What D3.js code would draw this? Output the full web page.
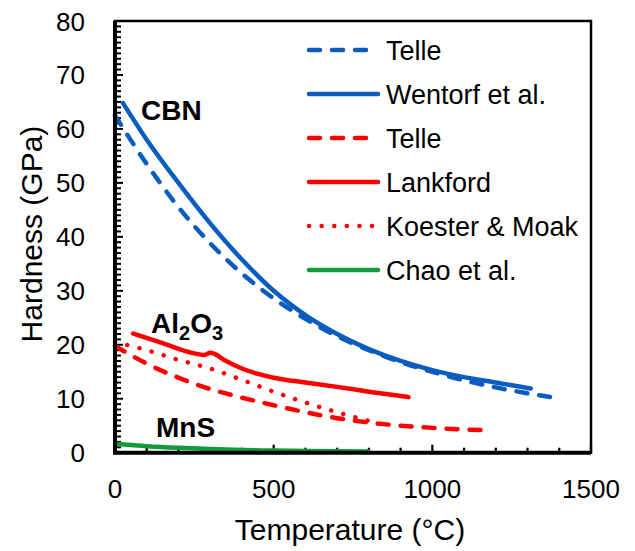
<!DOCTYPE html>
<html>
<head>
<meta charset="utf-8">
<script src="https://cdn.jsdelivr.net/npm/d3@7"></script>
<style>
body { margin: 0; background: #fff; }
text { font-family: Arial, "Liberation Sans", sans-serif; fill: #000; }
</style>
</head>
<body>
<div id="chartDiv"></div>
<script>
// values: temperature (°C) and hardness (GPa)
var cbnTelleT = [0, 100, 200, 300, 400, 500, 600, 700, 800, 900, 1000, 1100, 1200, 1300, 1385];
var cbnTelleH = [62.5, 53.5, 45.5, 38.8, 33.2, 28.6, 24.8, 21.6, 19.0, 16.8, 15.0, 13.4, 12.1, 11.0, 10.2];
var wentorfT = [25, 100, 200, 300, 400, 500, 600, 700, 800, 900, 1000, 1100, 1200, 1310];
var wentorfH = [64.8, 58.0, 50.0, 42.5, 35.8, 30.0, 25.5, 22.0, 19.2, 17.0, 15.3, 14.0, 13.0, 11.9];
var aloTelleT = [0, 100, 200, 300, 400, 500, 600, 700, 800, 900, 1000, 1100, 1170];
var aloTelleH = [19.8, 16.5, 13.9, 11.8, 10.2, 8.8, 7.5, 6.4, 5.6, 5.0, 4.6, 4.3, 4.2];
var lankfordT = [57, 150, 250, 280, 300, 350, 400, 450, 500, 600, 700, 800, 925];
var lankfordH = [22.1, 20.3, 18.4, 18.1, 18.5, 17.0, 15.6, 14.6, 13.9, 13.0, 12.2, 11.3, 10.3];
var koesterT = [0, 100, 200, 300, 400, 500, 600, 700, 800];
var koesterH = [20.5, 19.0, 17.2, 15.6, 13.5, 11.3, 9.3, 7.5, 5.9];
var chaoT = [10, 100, 200, 300, 400, 500, 600, 700, 800];
var chaoH = [1.6, 1.2, 0.9, 0.7, 0.5, 0.4, 0.3, 0.25, 0.2];

var seriesNames = ["Telle", "Wentorf et al.", "Telle", "Lankford", "Koester & Moak", "Chao et al."];
var xTicks = [0, 500, 1000, 1500];
var yTicks = [0, 10, 20, 30, 40, 50, 60, 70, 80];

var blue = "#0a5cbf", red = "#ff0000", green = "#139a3a";
var series = [
    {name: seriesNames[0], t: cbnTelleT, h: cbnTelleH, color: blue, dash: "11,12"},
    {name: seriesNames[1], t: wentorfT, h: wentorfH, color: blue, dash: null},
    {name: seriesNames[2], t: aloTelleT, h: aloTelleH, color: red, dash: "11,12"},
    {name: seriesNames[3], t: lankfordT, h: lankfordH, color: red, dash: null},
    {name: seriesNames[4], t: koesterT, h: koesterH, color: red, dash: "0.1,12.5"},
    {name: seriesNames[5], t: chaoT, h: chaoH, color: green, dash: null}
];

var width = 635, height = 551;

var x = d3.scaleLinear().domain([0, 1500]).range([115, 591]);
var y = d3.scaleLinear().domain([0, 80]).range([452.7, 21]);

var svg = d3.select("#chartDiv").append("svg")
    .attr("width", width)
    .attr("height", height);

// minor / major ticks, pointing inward
var xMinor = d3.range(0, 1501, 100);
svg.append("g").selectAll("line")
    .data(xMinor)
    .enter().append("line")
    .attr("x1", function (d) { return x(d); })
    .attr("x2", function (d) { return x(d); })
    .attr("y1", y(0))
    .attr("y2", function (d) { return y(0) - (d % 500 === 0 ? 8 : 5); })
    .attr("stroke", "#000")
    .attr("stroke-width", 2.2);

var yMinor = d3.range(0, 81, 1);
svg.append("g").selectAll("line")
    .data(yMinor)
    .enter().append("line")
    .attr("y1", function (d) { return y(d); })
    .attr("y2", function (d) { return y(d); })
    .attr("x1", x(0))
    .attr("x2", function (d) { return x(0) + (d % 10 === 0 ? 8 : 6); })
    .attr("stroke", "#000")
    .attr("stroke-width", 2);

// tick labels
svg.append("g").selectAll("text")
    .data(xTicks)
    .enter().append("text")
    .attr("x", function (d) { return x(d); })
    .attr("y", 498)
    .attr("text-anchor", "middle")
    .style("font-size", "26px")
    .text(function (d) { return d; });

svg.append("g").selectAll("text")
    .data(yTicks)
    .enter().append("text")
    .attr("x", 85)
    .attr("y", function (d) { return y(d) + 9.5; })
    .attr("text-anchor", "end")
    .style("font-size", "26px")
    .text(function (d) { return d; });

// axis titles
svg.append("text")
    .attr("x", 350)
    .attr("y", 540)
    .attr("text-anchor", "middle")
    .style("font-size", "30px")
    .text("Temperature (°C)");

svg.append("text")
    .attr("transform", "translate(42,234) rotate(-90)")
    .attr("text-anchor", "middle")
    .style("font-size", "30px")
    .text("Hardness (GPa)");

// the curves
var line = d3.line()
    .x(function (d) { return x(d[0]); })
    .y(function (d) { return y(d[1]); })
    .curve(d3.curveMonotoneX);

svg.append("g").selectAll("path")
    .data(series)
    .enter().append("path")
    .attr("d", function (s) { return line(d3.zip(s.t, s.h)); })
    .attr("fill", "none")
    .attr("stroke", function (s) { return s.color; })
    .attr("stroke-width", 4.5)
    .attr("stroke-linecap", "round")
    .attr("stroke-dasharray", function (s) { return s.dash; });

// frame
svg.append("rect")
    .attr("x", x(0))
    .attr("y", y(80))
    .attr("width", x(1500) - x(0))
    .attr("height", y(0) - y(80))
    .attr("fill", "none")
    .attr("stroke", "#000")
    .attr("stroke-width", 2.5);
svg.append("path")
    .attr("d", "M" + x(0) + "," + y(80) + "V" + y(0) + "H" + x(1500))
    .attr("fill", "none")
    .attr("stroke", "#000")
    .attr("stroke-width", 4);

// legend
var legend = svg.append("g").selectAll("g")
    .data(series)
    .enter().append("g")
    .attr("transform", function (d, i) { return "translate(0," + (50 + i * 44) + ")"; });

legend.append("line")
    .attr("x1", 309)
    .attr("x2", 378)
    .attr("stroke", function (s) { return s.color; })
    .attr("stroke-width", 4.5)
    .attr("stroke-linecap", "round")
    .attr("stroke-dasharray", function (s) { return s.dash; });

legend.append("text")
    .attr("x", 386)
    .attr("y", 10)
    .style("font-size", "27px")
    .text(function (s) { return s.name; });

// material labels
svg.append("text")
    .attr("x", 141)
    .attr("y", 120)
    .style("font-size", "28px")
    .style("font-weight", "bold")
    .text("CBN");

var al = svg.append("text")
    .attr("x", 151)
    .attr("y", 333)
    .style("font-size", "28px")
    .style("font-weight", "bold");
al.append("tspan").text("Al");
al.append("tspan").attr("dy", 7).style("font-size", "20px").text("2");
al.append("tspan").attr("dy", -7).text("O");
al.append("tspan").attr("dy", 7).style("font-size", "20px").text("3");

svg.append("text")
    .attr("x", 156)
    .attr("y", 437)
    .style("font-size", "28px")
    .style("font-weight", "bold")
    .text("MnS");
</script>
</body>
</html>
